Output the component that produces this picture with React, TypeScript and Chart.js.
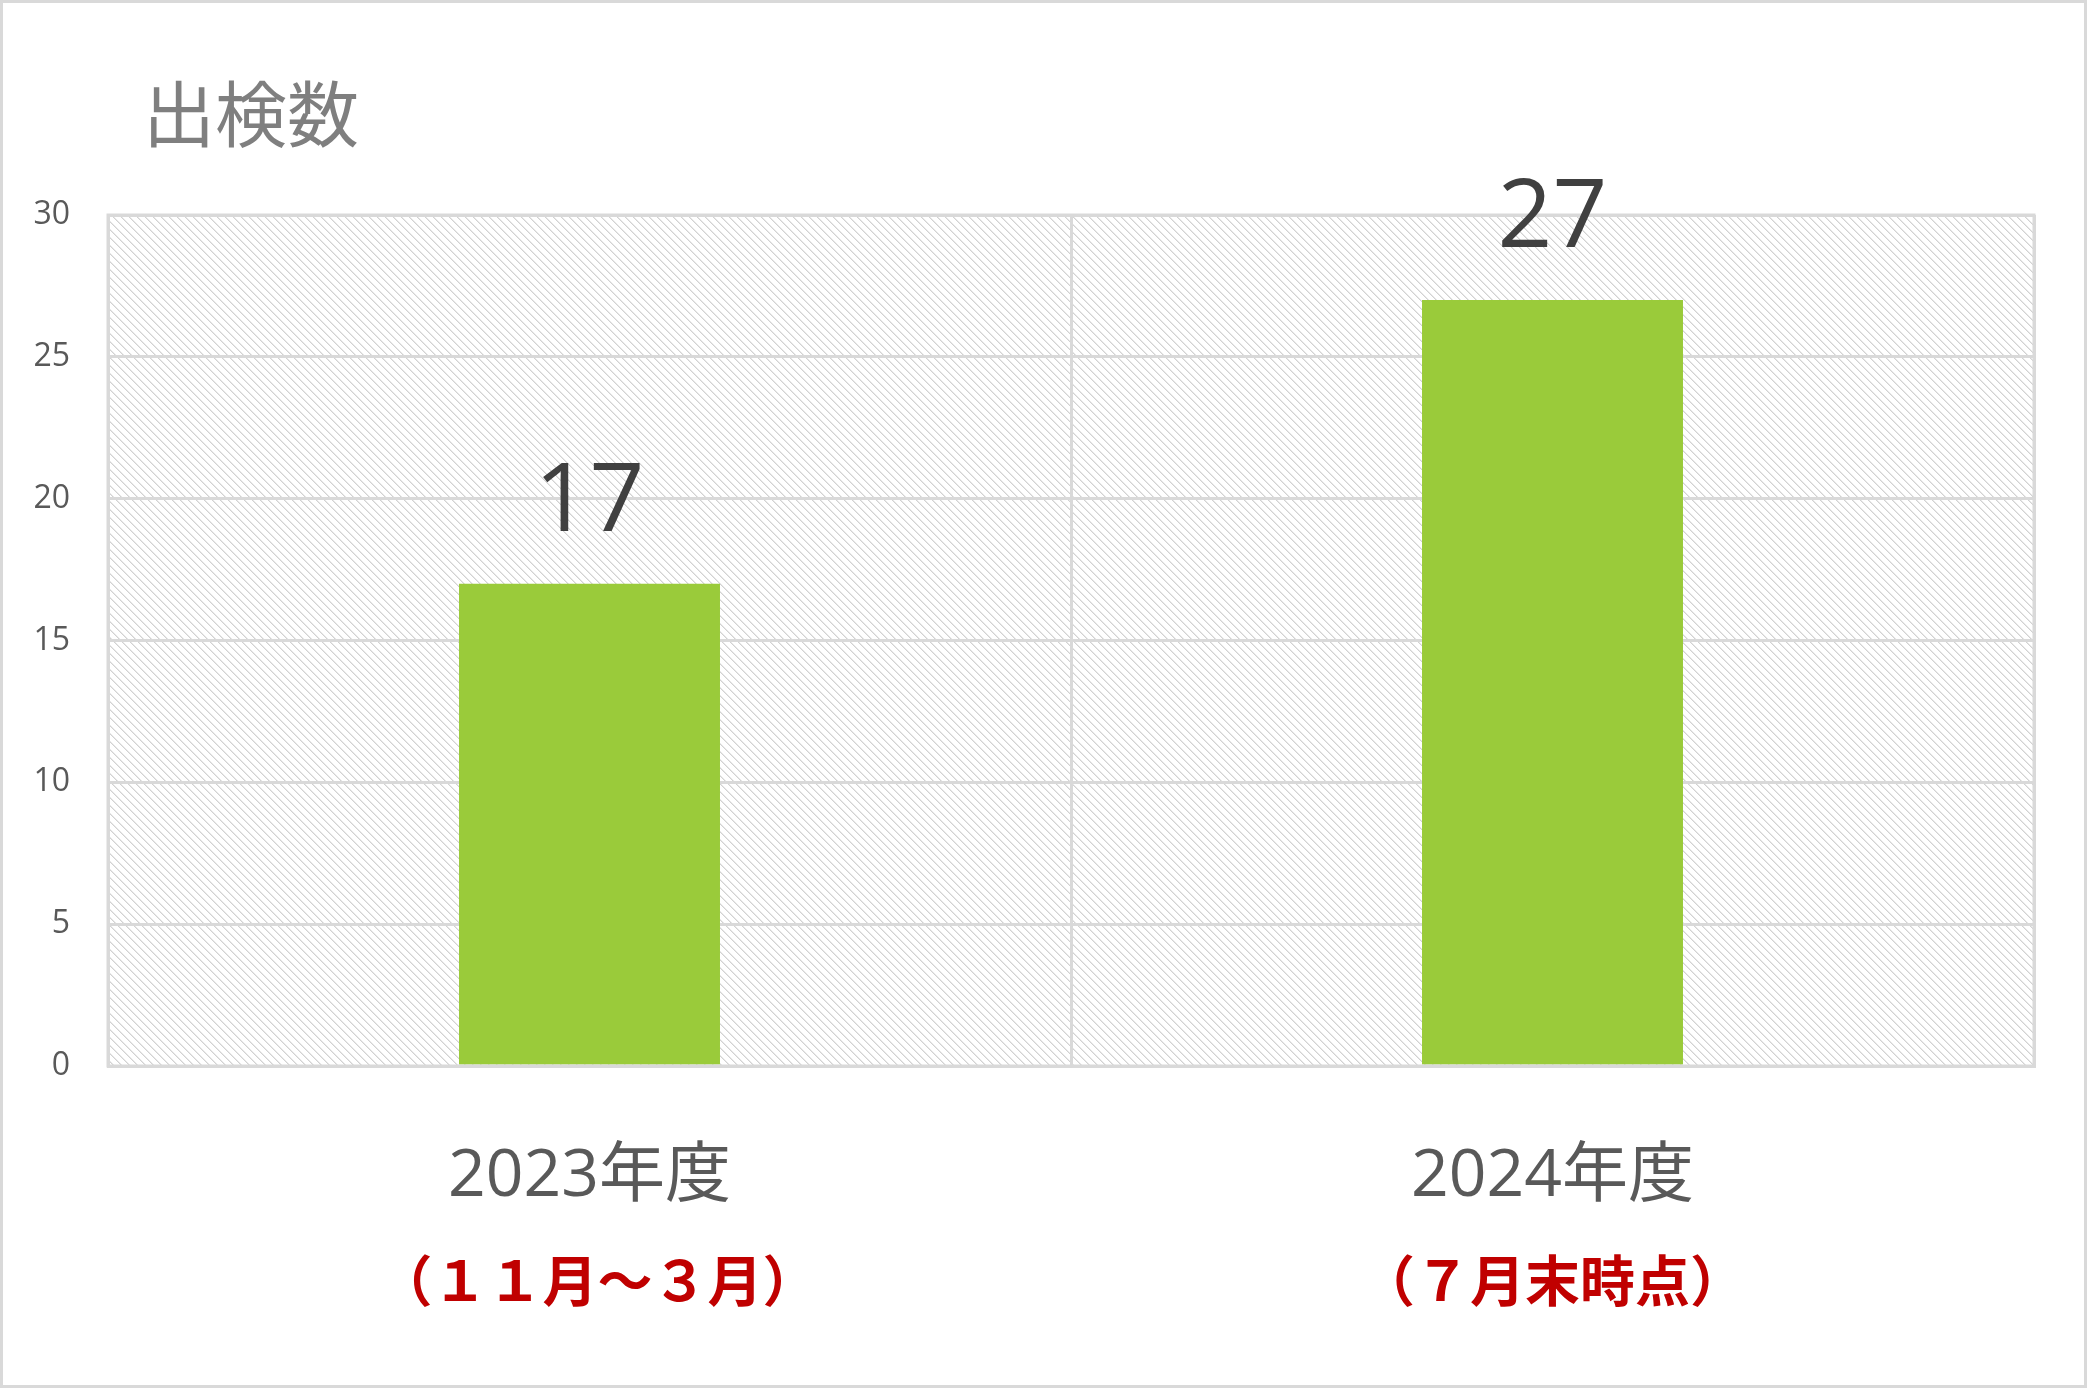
import { useEffect, useRef } from "react";
import { Chart, registerables } from "chart.js";

Chart.register(...registerables);

// Data
const categories = ["2023年度", "2024年度"];
const periodNotes = ["（１１月～３月）", "（７月末時点）"];
const inspections = [17, 27];
const yTicks = [0, 5, 10, 15, 20, 25, 30];
const chartTitle = "出検数";

const W = 2087;
const H = 1388;
const GRID = "#d9d9d9";
const LATIN = "'Open Sans', 'Noto Sans CJK JP', sans-serif";
const CJK = "'Noto Sans CJK JP', 'Open Sans', sans-serif";

function makeHatch(): HTMLCanvasElement {
  const c = document.createElement("canvas");
  c.width = 8;
  c.height = 8;
  const g = c.getContext("2d")!;
  g.fillStyle = "#ffffff";
  g.fillRect(0, 0, 8, 8);
  for (let i = 0; i < 8; i++) {
    g.fillStyle = "#d2d2d2";
    g.fillRect(i, i, 1, 1);
    g.fillStyle = "#e8e8e8";
    g.fillRect((i + 1) % 8, i, 1, 1);
  }
  return c;
}

const decorPlugin = {
  id: "decor",
  beforeDraw(chart: any) {
    const { ctx, chartArea: a } = chart;
    const pattern = ctx.createPattern(makeHatch(), "repeat");
    ctx.save();
    ctx.fillStyle = pattern;
    ctx.fillRect(a.left, a.top, a.right - a.left, a.bottom - a.top);
    ctx.restore();
  },
  afterDraw(chart: any) {
    const { ctx, chartArea: a } = chart;
    ctx.save();

    // outer frame
    ctx.strokeStyle = GRID;
    ctx.lineWidth = 3;
    ctx.strokeRect(1.5, 1.5, W - 3, H - 3);

    // plot frame
    ctx.strokeRect(a.left, a.top, a.right - a.left, a.bottom - a.top);

    // title
    ctx.fillStyle = "#7f7f7f";
    ctx.font = `72px ${CJK}`;
    ctx.textAlign = "left";
    ctx.textBaseline = "middle";
    ctx.fillText(chartTitle, 143, 114);

    // value labels above bars
    const meta = chart.getDatasetMeta(0);
    ctx.fillStyle = "#404040";
    ctx.font = `96px ${LATIN}`;
    ctx.textAlign = "center";
    meta.data.forEach((el: any, i: number) => {
      ctx.fillText(String(inspections[i]), el.x, el.y - 80);
    });

    // category labels
    const xs = chart.scales.x;
    categories.forEach((c, i) => {
      const x = xs.getPixelForValue(i);
      ctx.fillStyle = "#595959";
      ctx.font = `66px ${LATIN}`;
      ctx.fillText(c, x, a.bottom + 111);
      ctx.fillStyle = "#c00000";
      ctx.font = `bold 55px ${CJK}`;
      ctx.fillText(periodNotes[i], x + (i === 0 ? 8 : 0), a.bottom + 214);
    });

    ctx.restore();
  },
};

export default function App() {
  const ref = useRef<HTMLCanvasElement>(null);

  useEffect(() => {
    document.body.style.margin = "0";
    const canvas = ref.current!;
    const chart = new Chart(canvas, {
      type: "bar",
      data: {
        labels: categories,
        datasets: [
          {
            data: inspections,
            backgroundColor: "#9acb3a",
            borderWidth: 0,
            categoryPercentage: 1,
            barPercentage: 0.271,
          },
        ],
      },
      options: {
        responsive: false,
        animation: false,
        layout: { padding: { top: 215, right: 53, left: 0, bottom: 0 } },
        plugins: {
          legend: { display: false },
          tooltip: { enabled: false },
          title: { display: false },
        },
        scales: {
          x: {
            offset: true,
            grid: { color: GRID, lineWidth: 3, offset: true, drawTicks: false },
            border: { display: true, color: GRID, width: 3 },
            ticks: { display: false },
            afterFit(scale: any) {
              scale.height = H - 1066;
            },
          },
          y: {
            min: yTicks[0],
            max: yTicks[yTicks.length - 1],
            grid: { color: GRID, lineWidth: 3, drawTicks: false },
            border: { display: true, color: GRID, width: 3 },
            ticks: {
              stepSize: yTicks[1] - yTicks[0],
              padding: 38,
              color: "#595959",
              font: { family: LATIN, size: 32 },
            },
            afterFit(scale: any) {
              scale.width = 108;
            },
          },
        },
      },
      plugins: [decorPlugin],
    });
    return () => chart.destroy();
  }, []);

  return (
    <div style={{ width: W, height: H, background: "#ffffff" }}>
      <canvas ref={ref} width={W} height={H} style={{ display: "block" }} />
    </div>
  );
}
